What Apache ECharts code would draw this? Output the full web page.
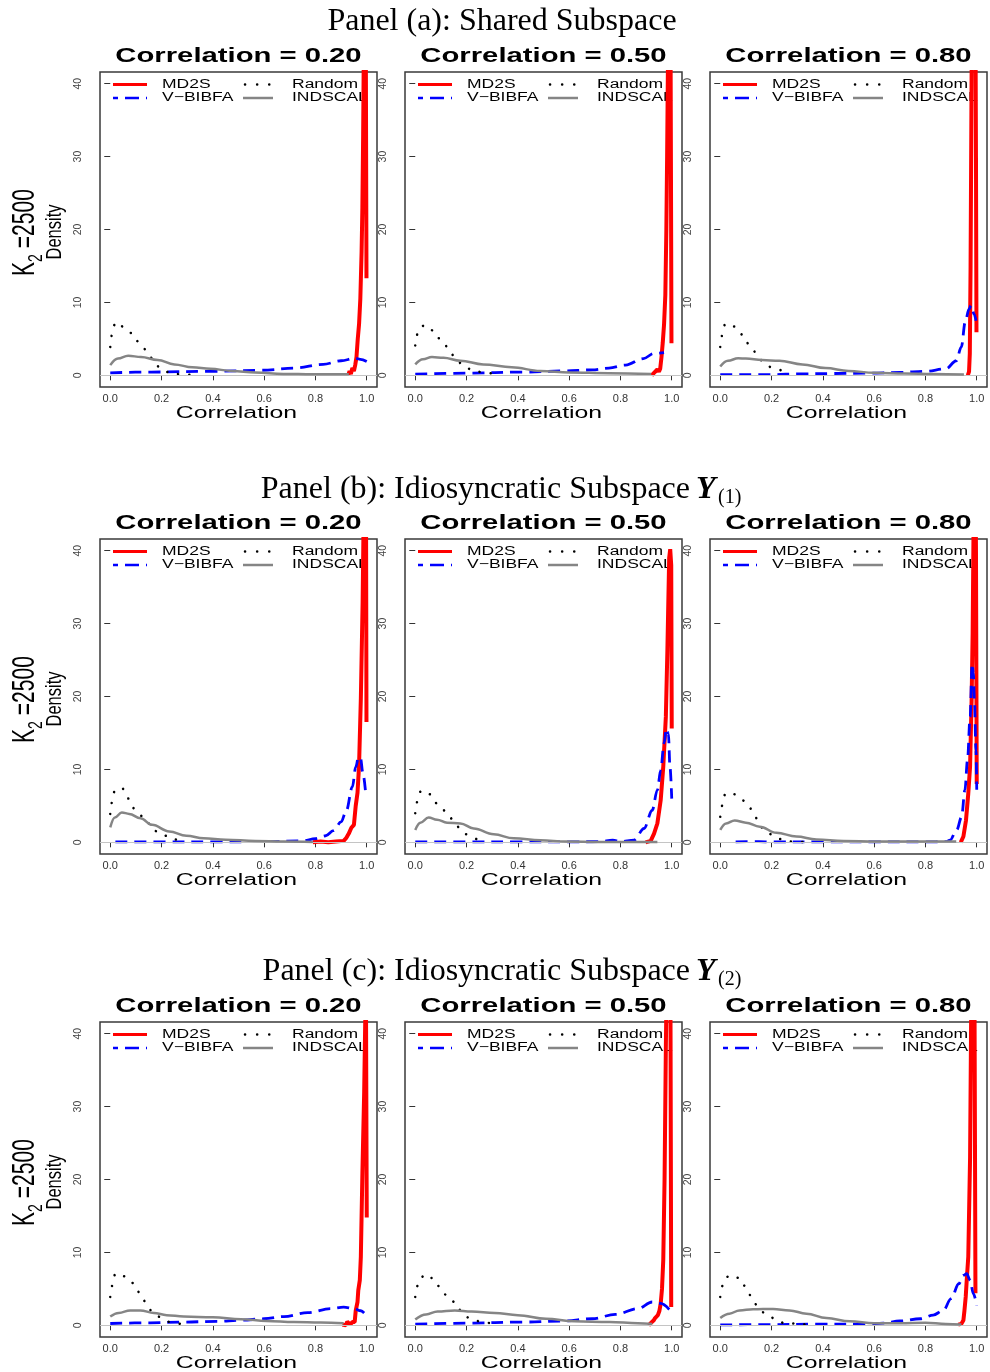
<!DOCTYPE html>
<html>
<head>
<meta charset="utf-8">
<script src="https://cdn.jsdelivr.net/npm/echarts@6/dist/echarts.min.js"></script>
<style>
html, body { margin: 0; padding: 0; background: #fff; }
#main { width: 990px; height: 1372px; }
</style>
</head>
<body>
<div id="main"></div>
<script>
// tick labels and panel text
var xTicks = [0, 0.2, 0.4, 0.6, 0.8, 1.0];
var yTicks = [0, 10, 20, 30, 40];
var corrLabels = ['0.20', '0.50', '0.80'];
var seriesNames = ['MD2S', 'V\u2212BIBFA', 'Random', 'INDSCAL'];

// panel (a): shared subspace, one list per correlation level, [x, density]
var md2sA = [
    [[0.928,0],[0.933,0.6],[0.938,0.2],[0.944,1.0],[0.95,0.6],[0.955,1.4],[0.96,2.5],[0.965,5.0],[0.97,7],[0.975,10.5],[0.98,17],[0.983,23],[0.986,33],[0.988,42],[0.992,56],[0.996,50],[0.999,13.3]],
    [[0.922,0],[0.93,0.3],[0.937,0.1],[0.944,0.8],[0.95,0.5],[0.955,0.9],[0.96,2.5],[0.965,4.5],[0.97,7],[0.975,11],[0.979,20],[0.982,30],[0.985,42],[0.99,56],[0.995,50],[0.999,4.4]],
    [[0.965,0],[0.97,0.5],[0.973,3],[0.976,15],[0.979,35],[0.982,55],[0.988,70],[0.994,60],[0.997,30],[0.999,5.9]]
];
var vbibfaA = [
    [[0,0.35],[0.16,0.45],[0.39,0.55],[0.59,0.7],[0.72,1.0],[0.83,1.5],[0.9,2.0],[0.955,2.35],[0.975,2.2],[1.0,1.9]],
    [[0,0.15],[0.2,0.3],[0.42,0.45],[0.577,0.6],[0.69,0.75],[0.755,1.0],[0.82,1.4],[0.89,2.3],[0.93,3.0],[0.97,3.1]],
    [[0,0.1],[0.2,0.1],[0.31,0.2],[0.44,0.25],[0.57,0.3],[0.7,0.4],[0.8,0.55],[0.88,0.9],[0.92,2.0],[0.94,3.9],[0.955,7.3],[0.97,9.1],[0.978,9.6],[0.99,8.4],[0.997,7.5]]
];
var randomA = [
    [[0,3.9],[0.003,5.0],[0.008,6.1],[0.02,7.2],[0.035,7.2],[0.051,6.6],[0.083,5.8],[0.1,4.8],[0.125,3.9],[0.15,2.9],[0.17,1.9],[0.195,1.0],[0.23,0.4],[0.28,0.1],[0.33,0.02]],
    [[0,4.1],[0.004,5.3],[0.013,6.3],[0.038,6.9],[0.073,6.1],[0.091,5.1],[0.114,4.2],[0.136,3.2],[0.158,2.2],[0.187,1.4],[0.223,0.7],[0.265,0.4],[0.316,0.1]],
    [[0,3.9],[0.004,5.0],[0.009,6.0],[0.02,7.1],[0.054,6.7],[0.078,5.8],[0.096,4.7],[0.123,3.8],[0.143,2.8],[0.167,1.9],[0.2,1.1],[0.243,0.55]]
];
var indscalA = [
    [[0,1.4],[0.03,2.3],[0.07,2.7],[0.12,2.5],[0.185,2.1],[0.25,1.5],[0.32,1.1],[0.39,0.9],[0.475,0.6],[0.565,0.4],[0.675,0.2],[0.79,0.15],[0.93,0.15]],
    [[0,1.5],[0.03,2.2],[0.065,2.5],[0.11,2.4],[0.176,2.0],[0.265,1.5],[0.376,1.1],[0.488,0.6],[0.6,0.4],[0.755,0.3],[0.92,0.2]],
    [[0,1.2],[0.03,2.0],[0.07,2.35],[0.1,2.3],[0.163,2.1],[0.23,2.0],[0.32,1.5],[0.41,1.0],[0.5,0.6],[0.6,0.35],[0.72,0.25],[0.83,0.2],[0.95,0.12]]
];

// panel (b): idiosyncratic subspace Y(1)
var md2sB = [
    [[0.79,0],[0.82,0.1],[0.85,0],[0.88,0.1],[0.91,0.2],[0.92,0.6],[0.93,1.2],[0.94,2.0],[0.95,2.4],[0.957,5],[0.964,6.8],[0.97,10.5],[0.977,19.7],[0.984,33],[0.988,45],[0.993,58],[0.997,50],[0.999,16.5]],
    [[0.898,0],[0.918,0.2],[0.931,1.2],[0.944,2.6],[0.957,5.8],[0.967,10.4],[0.977,17.2],[0.983,26.3],[0.99,39],[0.994,40.2],[0.998,38],[1.0,15.6]],
    [[0.9375,0],[0.948,0.8],[0.958,3.0],[0.967,6.7],[0.974,10.4],[0.98,19.5],[0.984,28.6],[0.988,45],[0.993,60],[0.997,40],[1.0,8]]
];
var vbibfaB = [
    [[0.02,0.05],[0.2,0.05],[0.4,0.05],[0.6,0.1],[0.75,0.2],[0.8,0.5],[0.84,0.9],[0.87,1.6],[0.9,2.8],[0.92,4.3],[0.944,7.6],[0.957,10.3],[0.968,11.7],[0.976,11.5],[0.985,9.5],[0.996,6.7]],
    [[0,0.05],[0.2,0.05],[0.4,0.05],[0.6,0.05],[0.72,0.1],[0.77,0.3],[0.8,0.1],[0.853,0.3],[0.892,1.9],[0.924,4.4],[0.944,7.2],[0.957,9.9],[0.97,13.6],[0.979,15.6],[0.987,14.9],[0.993,10.4],[1.0,6.0]],
    [[0.06,0.05],[0.15,0.1],[0.2,0.05],[0.4,0.05],[0.6,0.05],[0.8,0.05],[0.88,0.1],[0.896,0.3],[0.922,1.7],[0.941,3.5],[0.954,7.2],[0.964,11.3],[0.974,17.2],[0.982,24.5],[0.987,23.2],[0.991,19.5],[0.997,12.6],[1.0,7.2]]
];
var randomB = [
    [[0,3.9],[0.004,5.0],[0.008,6.1],[0.018,7.1],[0.045,7.5],[0.063,6.5],[0.078,5.5],[0.096,4.5],[0.125,3.6],[0.15,2.6],[0.17,1.6],[0.208,0.95],[0.248,0.4],[0.297,0.1]],
    [[0,4.0],[0.004,5.1],[0.01,6.1],[0.023,7.1],[0.056,6.6],[0.075,5.5],[0.1,4.7],[0.13,3.8],[0.15,2.8],[0.176,1.9],[0.2,1.1],[0.24,0.4]],
    [[0,3.5],[0.004,4.5],[0.01,5.6],[0.02,6.7],[0.047,6.7],[0.082,5.9],[0.11,5.0],[0.13,4.0],[0.147,3.0],[0.167,1.9],[0.2,1.1],[0.234,0.45],[0.28,0.1],[0.33,0.0]]
];
var indscalB = [
    [[0,2.05],[0.018,3.4],[0.045,4.1],[0.074,3.9],[0.118,3.3],[0.163,2.4],[0.23,1.5],[0.297,0.9],[0.364,0.55],[0.45,0.35],[0.565,0.2],[0.676,0.1],[0.79,0.05]],
    [[0,1.7],[0.02,2.7],[0.052,3.4],[0.085,3.1],[0.124,2.7],[0.176,2.6],[0.228,1.9],[0.306,1.1],[0.384,0.55],[0.488,0.3],[0.59,0.1],[0.72,0.05],[0.944,0.05]],
    [[0,1.7],[0.023,2.6],[0.056,3.0],[0.1,2.7],[0.154,2.15],[0.219,1.3],[0.297,0.8],[0.375,0.4],[0.48,0.2],[0.61,0.1],[0.79,0.1],[0.92,0.1]]
];

// panel (c): idiosyncratic subspace Y(2)
var md2sC = [
    [[0.905,0.1],[0.918,0],[0.924,0.5],[0.935,0.1],[0.944,0.45],[0.953,0.45],[0.957,2.0],[0.964,3.2],[0.967,4.8],[0.973,6.2],[0.977,9.4],[0.983,20.8],[0.99,32],[0.994,41.5],[0.997,45],[1.0,14.8]],
    [[0.91,0],[0.918,0.3],[0.924,0.45],[0.93,0.7],[0.935,1.0],[0.94,0.9],[0.946,1.4],[0.952,2.0],[0.957,3.0],[0.962,5.0],[0.967,9],[0.972,20],[0.977,38],[0.983,55],[0.99,58],[0.995,45],[0.998,2.5]],
    [[0.928,0.1],[0.94,0.2],[0.948,0.7],[0.952,2.0],[0.957,3.9],[0.961,6.2],[0.967,9.4],[0.974,23],[0.978,41.5],[0.985,55],[0.991,48],[0.995,4.4]]
];
var vbibfaC = [
    [[0,0.25],[0.156,0.35],[0.286,0.45],[0.417,0.55],[0.51,0.7],[0.6,0.9],[0.677,1.2],[0.77,1.75],[0.86,2.3],[0.91,2.5],[0.95,2.3],[0.977,2.0],[0.99,1.7]],
    [[0,0.15],[0.2,0.3],[0.42,0.45],[0.577,0.6],[0.69,0.9],[0.78,1.5],[0.868,2.3],[0.924,3.2],[0.957,3.0],[1.0,1.8]],
    [[0,0.05],[0.18,0.1],[0.375,0.15],[0.57,0.15],[0.635,0.3],[0.7,0.6],[0.78,0.9],[0.83,1.4],[0.87,2.05],[0.9,3.65],[0.93,5.7],[0.948,6.85],[0.961,7.1],[0.974,6.2],[0.987,4.3],[1.0,2.7]]
];
var randomC = [
    [[0,3.9],[0.004,4.9],[0.01,6.0],[0.02,7.1],[0.061,6.7],[0.089,5.8],[0.104,4.8],[0.124,3.8],[0.143,2.8],[0.165,1.8],[0.2,1.05],[0.237,0.4],[0.284,0.1]],
    [[0,3.9],[0.004,4.9],[0.013,6.0],[0.038,7.0],[0.073,6.4],[0.091,5.4],[0.12,4.2],[0.154,3.2],[0.183,1.8],[0.214,0.9],[0.263,0.45],[0.306,0.15]],
    [[0,3.9],[0.004,4.9],[0.013,6.1],[0.036,6.85],[0.075,6.5],[0.091,5.5],[0.108,4.5],[0.128,3.4],[0.147,2.5],[0.176,1.6],[0.215,0.9],[0.25,0.3],[0.35,0.05]]
];
var indscalC = [
    [[0,1.2],[0.033,1.7],[0.078,2.05],[0.117,2.05],[0.17,1.7],[0.22,1.4],[0.286,1.2],[0.4,1.1],[0.51,0.85],[0.61,0.6],[0.716,0.45],[0.82,0.4],[0.91,0.3]],
    [[0,0.8],[0.042,1.5],[0.087,1.9],[0.154,2.05],[0.22,1.9],[0.31,1.7],[0.4,1.4],[0.51,0.9],[0.62,0.55],[0.757,0.45],[0.868,0.3],[0.924,0.2]],
    [[0,1.0],[0.036,1.6],[0.075,2.05],[0.128,2.2],[0.206,2.25],[0.27,2.05],[0.336,1.6],[0.414,1.0],[0.505,0.55],[0.6,0.3],[0.7,0.3],[0.8,0.35],[0.88,0.2],[0.94,0.1]]
];

var panels = [
    { md2s: md2sA, vbibfa: vbibfaA, random: randomA, indscal: indscalA },
    { md2s: md2sB, vbibfa: vbibfaB, random: randomB, indscal: indscalB },
    { md2s: md2sC, vbibfa: vbibfaC, random: randomC, indscal: indscalC }
];

var box = echarts.init(document.getElementById('main'));

var gridLeft = [100, 405, 710];
var gridTop = [72, 539, 1022];
var gridW = 277, gridH = 315;
var sans = '"Liberation Sans", Arial, sans-serif';
var serif = '"Liberation Serif", "Times New Roman", serif';

var grids = [], xAxes = [], yAxes = [], series = [], graphics = [];

function txt(x, y, text, font, align, opts) {
    var el = {
        type: 'text', x: x, y: y, silent: true,
        style: {
            text: text, font: font, fill: '#000',
            align: align, textAlign: align,
            verticalAlign: 'middle', textVerticalAlign: 'middle'
        }
    };
    if (opts) { for (var k in opts) el[k] = opts[k]; }
    return el;
}
function seg(x1, x2, y, stroke, width, dash, offset) {
    return {
        type: 'line', silent: true,
        shape: { x1: x1, y1: y, x2: x2, y2: y },
        style: { stroke: stroke, lineWidth: width, lineDash: dash || null, lineDashOffset: offset || 0, lineCap: dash && dash[0] < 1 ? 'round' : 'butt' }
    };
}

for (var p = 0; p < 3; p++) {
    var gt = gridTop[p];
    for (var c = 0; c < 3; c++) {
        var idx = p * 3 + c;
        var gl = gridLeft[c];
        grids.push({
            left: gl, top: gt, width: gridW, height: gridH,
            show: true, borderColor: '#3a3a3a', borderWidth: 1.5,
            containLabel: false, outerBoundsMode: 'none'
        });
        xAxes.push({
            gridIndex: idx, type: 'value', min: -0.04, max: 1.04,
            axisLine: { show: false }, splitLine: { show: false },
            axisTick: { show: true, customValues: xTicks, length: 5, lineStyle: { color: '#333' } },
            axisLabel: {
                customValues: xTicks, margin: 6, fontSize: 11, color: '#333', fontFamily: sans,
                formatter: function (v) { return v.toFixed(1); }
            }
        });
        yAxes.push({
            gridIndex: idx, type: 'value', min: -1.6, max: 41.6,
            axisLine: { show: false }, splitLine: { show: false },
            axisTick: { show: true, customValues: yTicks, length: 6, lineStyle: { color: '#333' } },
            axisLabel: {
                customValues: yTicks, rotate: 90, margin: 22, fontSize: 10.5, color: '#444', fontFamily: sans,
                align: 'center', verticalAlign: 'middle'
            }
        });

        var pd = panels[p];
        series.push({
            name: 'MD2S', type: 'line', xAxisIndex: idx, yAxisIndex: idx,
            data: pd.md2s[c], symbol: 'none', clip: true, z: 2,
            lineStyle: { color: '#ff0000', width: 4 },
            markLine: {
                silent: true, symbol: ['none', 'none'], label: { show: false },
                lineStyle: { color: '#c4c4c4', width: 1, type: 'solid' },
                data: [{ yAxis: 0 }]
            }
        });
        series.push({
            name: 'V-BIBFA', type: 'line', xAxisIndex: idx, yAxisIndex: idx,
            data: pd.vbibfa[c], symbol: 'none', clip: true, z: 3,
            smooth: 0.35, smoothMonotone: 'x',
            lineStyle: { color: '#0000ff', width: 2.8, type: [12, 7] }
        });
        series.push({
            name: 'Random', type: 'line', xAxisIndex: idx, yAxisIndex: idx,
            data: pd.random[c], symbol: 'none', clip: true, z: 4,
            smooth: 0.4, smoothMonotone: 'x',
            lineStyle: { color: '#000000', width: 2.5, type: [0.1, 11], cap: 'round' }
        });
        series.push({
            name: 'INDSCAL', type: 'line', xAxisIndex: idx, yAxisIndex: idx,
            data: pd.indscal[c], symbol: 'none', clip: true, z: 5,
            smooth: 0.4, smoothMonotone: 'x',
            lineStyle: { color: '#858585', width: 2.5 }
        });

        // subplot title and x axis name
        graphics.push(txt(gl + gridW / 2, gt - 15, 'Correlation = ' + corrLabels[c],
            'bold 19.5px ' + sans, 'center', { scaleX: 1.5 }));
        graphics.push(txt(gl + gridW / 2 - 2, gt + gridH + 27, 'Correlation',
            '16px ' + sans, 'center', { scaleX: 1.55 }));

        // legend drawn inside the box
        var r1 = gt + 12.5, r2 = gt + 26;
        graphics.push(seg(gl + 13, gl + 47, r1, '#ff0000', 3));
        graphics.push(seg(gl + 13, gl + 47, r2, '#0000ff', 2.5, [14, 7], 9));
        graphics.push(seg(gl + 145, gl + 172, r1, '#000000', 2.5, [0.1, 12]));
        graphics.push(seg(gl + 143, gl + 173, r2, '#858585', 2.5));
        graphics.push(txt(gl + 62, r1, seriesNames[0], '12.5px ' + sans, 'left', { scaleX: 1.4 }));
        graphics.push(txt(gl + 62, r2, seriesNames[1], '12.5px ' + sans, 'left', { scaleX: 1.4 }));
        graphics.push(txt(gl + 192, r1, seriesNames[2], '12.5px ' + sans, 'left', { scaleX: 1.4 }));
        graphics.push(txt(gl + 192, r2, seriesNames[3], '12.5px ' + sans, 'left', { scaleX: 1.4 }));
    }

    // row labels on the left
    graphics.push({
        type: 'group', x: 26, y: gt + 160, rotation: Math.PI / 2, scaleY: 1.45, silent: true,
        children: [
            txt(-44, 0, 'K', '21px ' + sans, 'left'),
            txt(-30, 7, '2', '14px ' + sans, 'left'),
            txt(-22, 0, ' =2500', '21px ' + sans, 'left')
        ]
    });
    graphics.push({
        type: 'group', x: 55, y: gt + 160, rotation: Math.PI / 2, scaleY: 1.3, silent: true,
        children: [ txt(0, 0, 'Density', '16.5px ' + sans, 'center') ]
    });
}

// panel titles
graphics.push(txt(502, 22, 'Panel (a): Shared Subspace', '32px ' + serif, 'center'));
var subTitleY = [490, 972];
var subIdx = ['(1)', '(2)'];
var subLbl = ['Panel (b): Idiosyncratic Subspace', 'Panel (c): Idiosyncratic Subspace'];
for (var s = 0; s < 2; s++) {
    graphics.push(txt(690, subTitleY[s], subLbl[s], '32px ' + serif, 'right'));
    graphics.push(txt(696, subTitleY[s], 'Y', 'italic bold 32px ' + serif, 'left'));
    graphics.push(txt(718, subTitleY[s] + 8, subIdx[s], '20px ' + serif, 'left'));
}

option = {
    backgroundColor: '#ffffff',
    animation: false,
    grid: grids,
    xAxis: xAxes,
    yAxis: yAxes,
    series: series,
    graphic: { elements: graphics }
};
box.setOption(option);
</script>
</body>
</html>
